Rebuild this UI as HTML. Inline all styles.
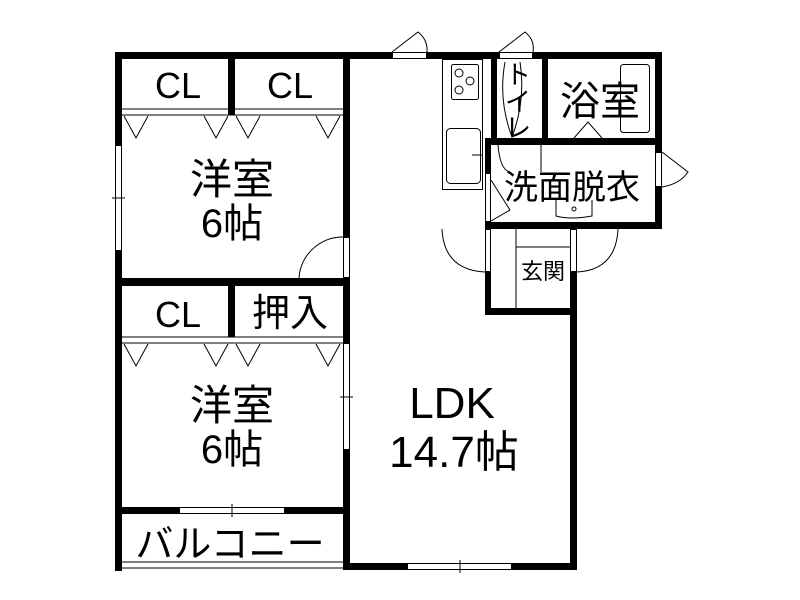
<!DOCTYPE html><html><head><style>body{margin:0;background:#fff}svg{display:block}text{font-family:"Liberation Sans","Noto Sans CJK JP",sans-serif;fill:#000}</style></head><body>
<svg width="800" height="600" viewBox="0 0 800 600" xmlns="http://www.w3.org/2000/svg">
<g fill="#000">
<rect x="115" y="52" width="277" height="7"/><rect x="427" y="52" width="72" height="7"/><rect x="533" y="52" width="129" height="7"/>
<rect x="115" y="52" width="7" height="93"/><rect x="115" y="251" width="7" height="320"/>
<rect x="228" y="52" width="7" height="63"/><rect x="228" y="286" width="7" height="51"/>
<rect x="343" y="52" width="7" height="185"/><rect x="343" y="278" width="7" height="65"/><rect x="343" y="450" width="7" height="120"/>
<rect x="115" y="278" width="235" height="8"/>
<rect x="115" y="507" width="64" height="7"/><rect x="285" y="507" width="65" height="7"/>
<rect x="343" y="563" width="64" height="7"/><rect x="512" y="563" width="65" height="7"/>
<rect x="570" y="272" width="7" height="298"/>
<rect x="491" y="52" width="6" height="93"/><rect x="542" y="52" width="6" height="93"/>
<rect x="655" y="52" width="7" height="100"/><rect x="655" y="187" width="7" height="42"/>
<rect x="485" y="138" width="177" height="7"/>
<rect x="485" y="145" width="6" height="28"/>
<rect x="485" y="222" width="177" height="7"/>
<rect x="485" y="272" width="6" height="43"/><rect x="485" y="308" width="92" height="7"/>
</g>
<g fill="none" stroke="#000" stroke-width="1">
<line x1="122" y1="109" x2="343" y2="109"/><line x1="122" y1="115" x2="343" y2="115"/>
<line x1="122" y1="337" x2="343" y2="337"/><line x1="122" y1="343" x2="343" y2="343"/>
<path d="M124 116 L136 138 L148 116 M204 116 L216 138 L228 116 M236 116 L248 138 L260 116 M316 116 L328 138 L340 116"/>
<path d="M124 344 L136 366 L148 344 M204 344 L216 366 L228 344 M236 344 L248 366 L260 344 M316 344 L328 366 L340 344"/>
<rect x="115.5" y="145.5" width="6" height="105"/><line x1="112" y1="198" x2="125" y2="198"/>
<rect x="343.5" y="237.5" width="6" height="40"/><path d="M299 278 A44 44 0 0 1 343 237"/>
<rect x="343.5" y="343.5" width="6" height="106"/><line x1="340" y1="397" x2="353" y2="397"/>
<rect x="179.5" y="507.5" width="105" height="6"/><line x1="232" y1="504" x2="232" y2="517"/>
<line x1="122" y1="562" x2="343" y2="562"/><line x1="122" y1="568" x2="343" y2="568"/>
<rect x="407.5" y="563.5" width="104" height="6"/><line x1="460" y1="560" x2="460" y2="573"/>
<rect x="392.5" y="52.5" width="34" height="6"/><path d="M392 52 L418 32 Q428 40 427 52"/>
<rect x="499.5" y="52.5" width="33" height="6"/><path d="M499 52 L525 32 Q535 40 533 52"/>
<rect x="442.5" y="59.5" width="40" height="130"/>
<rect x="451.5" y="64.5" width="27" height="35" rx="2"/>
<circle cx="459" cy="73" r="4"/><circle cx="470" cy="81" r="4"/><circle cx="459" cy="90" r="4"/>
<rect x="446.5" y="128.5" width="34" height="55" rx="4"/><line x1="472" y1="155" x2="482" y2="155"/>
<path d="M505 62 Q498 100 512 137 Q526 100 520 62"/>
<rect x="620.5" y="64.5" width="29" height="68" rx="3"/>
<path d="M574 138 L588 122 L602 138"/>
<rect x="497.5" y="138.5" width="44" height="6"/><rect x="548.5" y="138.5" width="106" height="6"/>
<path d="M498 145 Q500 170 510 172"/><line x1="541" y1="145" x2="541" y2="172"/>
<rect x="655.5" y="152.5" width="6" height="34"/><path d="M662 152 L688 172 Q680 184 662 187"/>
<rect x="485.5" y="173.5" width="5" height="48"/><path d="M491 180 L510 210 L491 221"/>
<path d="M556 200 L556 216 Q570 220 592 216 L592 200"/><circle cx="574" cy="209" r="2"/>
<rect x="485.5" y="229.5" width="5" height="42"/><path d="M442 229 Q444 270 485 272"/>
<rect x="570.5" y="229.5" width="6" height="42"/><path d="M618 229 Q616 270 577 272"/>
<line x1="516" y1="229" x2="516" y2="308"/><line x1="516" y1="247" x2="570" y2="247"/>
</g>
<g text-anchor="middle">
<text x="178" y="98" font-size="36">CL</text><text x="290" y="98" font-size="36">CL</text>
<text x="178" y="327" font-size="36">CL</text><text x="290" y="326" font-size="38">押入</text>
<text x="232" y="194" font-size="42">洋室</text><text x="232" y="237" font-size="40">6帖</text>
<text x="232" y="420" font-size="42">洋室</text><text x="232" y="463" font-size="40">6帖</text>
<text x="452" y="418" font-size="44">LDK</text><text x="454" y="467" font-size="44">14.7帖</text>
<text x="230" y="557" font-size="38">バルコニー</text>
<text x="600" y="115" font-size="40">浴室</text>
<text x="572" y="199" font-size="34">洗面脱衣</text>
<text x="543" y="279" font-size="22">玄関</text>
<text x="518" y="84" font-size="26">ト</text><text x="518" y="111" font-size="26">イ</text><text x="518" y="137" font-size="26">レ</text>
</g>
</svg></body></html>
